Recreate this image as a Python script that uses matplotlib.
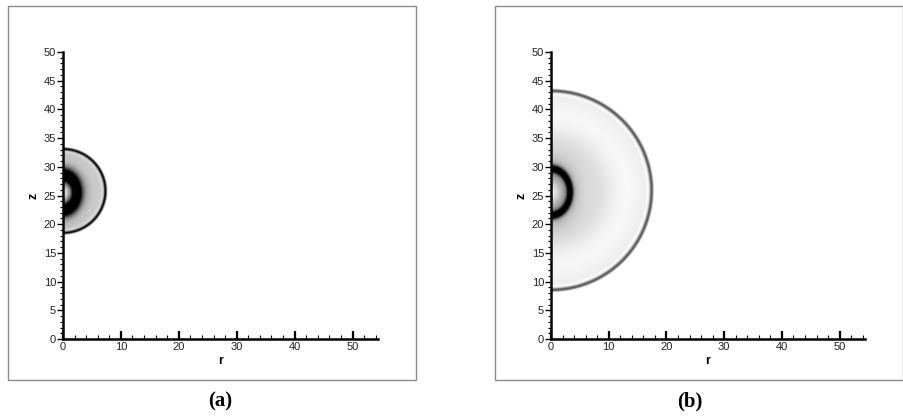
# Two axisymmetric blast-wave snapshots, gray density fields
import numpy as np
import matplotlib.pyplot as plt
from matplotlib.patches import Rectangle
from matplotlib.ticker import MultipleLocator

# ------------------------------------------
# Values
# ------------------------------------------
panel_labels = ["(a)", "(b)"]
shock_center_z = [25.8, 25.9]      # z of shock centre on the axis
shock_radius = [7.3, 17.35]        # outer shock front radius
shock_gray = [0.0, 0.33]           # gray level of the front line
shock_width = [0.28, 0.32]
interior_gray = [0.76, 0.91]       # background gray inside the front
bubble_center_z = [25.5, 25.6]
bubble_r_axis = [2.35, 3.3]        # ring radius along r
bubble_z_axis = [3.0, 4.1]         # ring radius along z
ring_width = [0.95, 0.5]
core_white = [0.97, 0.99]
halo_depth = [0.35, 0.40]

x_ticks = [0, 10, 20, 30, 40, 50]
y_ticks = [0, 5, 10, 15, 20, 25, 30, 35, 40, 45, 50]
r_max = 54.4
z_max = 50

# ------------------------------------------
# Build the fields
# ------------------------------------------
r = np.linspace(0, 25, 600)
z = np.linspace(0, 50, 1200)
R, Z = np.meshgrid(r, z)

fields = []
for i in range(2):
    d = np.sqrt(R**2 + (Z - shock_center_z[i])**2)
    f = np.full_like(R, interior_gray[i])
    # slight banding inside the front
    f += 0.06 * np.exp(-((d - 0.75 * shock_radius[i]) / (0.2 * shock_radius[i]))**2)
    f -= 0.04 * np.exp(-((d - 0.45 * shock_radius[i]) / (0.15 * shock_radius[i]))**2)
    # bubble: white core, black ring, gray halo
    rho = np.sqrt((R / bubble_r_axis[i])**2 + ((Z - bubble_center_z[i]) / bubble_z_axis[i])**2)
    core = np.clip(1 - rho, 0, 1)
    f = np.where(rho < 1, 0.3 + (core_white[i] - 0.3) * core**0.7, f)
    halo = np.exp(-np.clip(rho - 1, 0, None) * bubble_r_axis[i] / 1.2)
    f = np.where(rho >= 1, f - halo_depth[i] * halo, f)
    f -= 0.95 * np.exp(-(((rho - 1) * bubble_r_axis[i]) / ring_width[i])**2)
    # shock front with a light band just behind it
    f += 0.07 * np.exp(-((d - shock_radius[i] + 0.55) / 0.3)**2)
    front = shock_gray[i] + (1 - shock_gray[i]) * (1 - np.exp(-((d - shock_radius[i]) / shock_width[i])**2))
    f = np.minimum(f, front)
    f = np.where(d > shock_radius[i] + shock_width[i] * 1.2, 1.0, f)
    fields.append(np.clip(f, 0, 1))

# ------------------------------------------
# Figure
# ------------------------------------------
W, H = 904, 420
fig = plt.figure(figsize=(W / 100, H / 100), dpi=100)

frames = [(8, 6, 416, 380), (495, 6, 903, 380)]
axes_px = [(63, 52, 378, 339), (551, 52, 865, 339)]
caption_x = [220, 690]

for i in range(2):
    x0, y0, x1, y1 = frames[i]
    fig.patches.append(Rectangle((x0 / W, 1 - y1 / H), (x1 - x0) / W, (y1 - y0) / H,
                                 transform=fig.transFigure, fill=False,
                                 edgecolor="#8a8a8a", linewidth=1.0))

    ax0, ay0, ax1, ay1 = axes_px[i]
    ax = fig.add_axes([ax0 / W, 1 - ay1 / H, (ax1 - ax0) / W, (ay1 - ay0) / H])
    ax.imshow(fields[i], cmap="gray", vmin=0, vmax=1, origin="lower",
              extent=[r[0], r[-1], z[0], z[-1]], interpolation="bilinear",
              aspect="auto", zorder=0)
    ax.set_xlim(0, r_max)
    ax.set_ylim(0, z_max)

    for s in ["top", "right"]:
        ax.spines[s].set_visible(False)
    for s in ["left", "bottom"]:
        ax.spines[s].set_linewidth(1.8)

    ax.set_xticks(x_ticks)
    ax.set_yticks(y_ticks)
    ax.xaxis.set_minor_locator(MultipleLocator(2))
    ax.yaxis.set_minor_locator(MultipleLocator(1))
    ax.tick_params(axis="x", which="major", direction="in", length=6, width=1.6,
                   labelsize=8, pad=2, labelcolor="#222222")
    ax.tick_params(axis="x", which="minor", direction="in", length=3, width=0.8)
    ax.tick_params(axis="y", which="major", direction="out", length=4, width=1.0,
                   labelsize=8, pad=1, labelcolor="#222222")
    ax.tick_params(axis="y", which="minor", direction="out", length=2.5, width=0.8)
    for lab in ax.get_xticklabels() + ax.get_yticklabels():
        lab.set_family("Liberation Sans")

    ax.set_xlabel("r", fontsize=9, fontweight="bold", family="Liberation Sans", labelpad=2)
    ax.set_ylabel("z", fontsize=9, fontweight="bold", family="Liberation Sans", labelpad=3)

    fig.text(caption_x[i] / W, 1 - 401 / H, panel_labels[i], ha="center", va="center",
             fontsize=15, fontweight="bold", family="Liberation Serif")

fig.savefig("out.png", dpi=100)
